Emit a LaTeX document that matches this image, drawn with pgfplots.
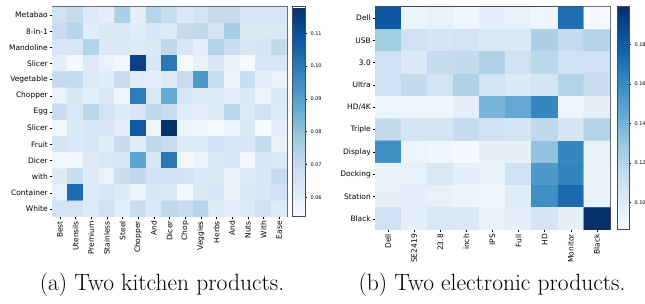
\documentclass[border=0pt]{standalone}
\usepackage{pgfplots}
\pgfplotsset{compat=1.18}
\usepackage{fontspec}
\newfontfamily\dejavu{DejaVu Sans}
\pgfplotsset{
  colormap={blues}{rgb255=(247,251,255) rgb255=(222,235,247) rgb255=(198,219,239) rgb255=(158,202,225) rgb255=(107,174,214) rgb255=(66,146,198) rgb255=(33,113,181) rgb255=(8,81,156) rgb255=(8,48,107)},
  heat/.style={
    scale only axis, anchor=south west, enlargelimits=false,
    y dir=reverse, colormap name=blues, colorbar,
    axis line style={black!70, line width=1pt},
    tick pos=left, tick align=outside, major tick length=2.5pt,
    tick style={black, line width=0.5pt},
    xtick=data, ytick=data,
    tick label style={font=\dejavu\fontsize{7.5}{8}\selectfont},
    xticklabel style={rotate=90, anchor=east, inner sep=1.5pt},
    yticklabel style={inner sep=1.5pt},
    colorbar shift/.style={xshift=5pt},
    colorbar style={
      at={(parent axis.north east)}, anchor=north west,
      scale only axis, width=13pt,
      axis line style={black!70, line width=1pt},
      ytick pos=right, tick align=outside, major tick length=2pt,
      yticklabel style={font=\dejavu\fontsize{5}{6}\selectfont, /pgf/number format/.cd, fixed, precision=2, fixed zerofill, assume math mode=true},
    },
  },
}
\begin{document}
\begin{tikzpicture}
\useasboundingbox (0,0) rectangle (645pt,304pt);
\begin{axis}[heat, at={(52pt,87pt)}, width=235pt, height=210pt,
  xmin=-0.5, xmax=14.5, ymin=-0.5, ymax=12.5,
  xtick={0,...,14}, ytick={0,...,12},
  xticklabels={Best,Utensils,Premium,Stainless,Steel,Chopper,And,Dicer,Chop,Veggies,Herbs,And,Nuts,With,Ease},
  yticklabels={Metabao,8-in-1,Mandoline,Slicer,Vegetable,Chopper,Egg,Slicer,Fruit,Dicer,with,Container,White},
  point meta min=0.054, point meta max=0.118,
  colorbar style={height=210pt, ytick={0.06,0.07,...,0.111}},
]
\addplot[matrix plot*, mesh/cols=15, point meta=explicit] coordinates {
(0,0)[0.067] (1,0)[0.070] (2,0)[0.062] (3,0)[0.060] (4,0)[0.075] (5,0)[0.060] (6,0)[0.073] (7,0)[0.069] (8,0)[0.063] (9,0)[0.066] (10,0)[0.070] (11,0)[0.070] (12,0)[0.064] (13,0)[0.064] (14,0)[0.064]
(0,1)[0.069] (1,1)[0.073] (2,1)[0.061] (3,1)[0.063] (4,1)[0.063] (5,1)[0.061] (6,1)[0.064] (7,1)[0.062] (8,1)[0.070] (9,1)[0.071] (10,1)[0.066] (11,1)[0.076] (12,1)[0.063] (13,1)[0.063] (14,1)[0.063]
(0,2)[0.064] (1,2)[0.064] (2,2)[0.074] (3,2)[0.063] (4,2)[0.063] (5,2)[0.062] (6,2)[0.063] (7,2)[0.071] (8,2)[0.064] (9,2)[0.060] (10,2)[0.074] (11,2)[0.069] (12,2)[0.064] (13,2)[0.065] (14,2)[0.071]
(0,3)[0.060] (1,3)[0.055] (2,3)[0.062] (3,3)[0.058] (4,3)[0.056] (5,3)[0.114] (6,3)[0.064] (7,3)[0.100] (8,3)[0.055] (9,3)[0.059] (10,3)[0.064] (11,3)[0.059] (12,3)[0.055] (13,3)[0.064] (14,3)[0.064]
(0,4)[0.070] (1,4)[0.070] (2,4)[0.062] (3,4)[0.061] (4,4)[0.069] (5,4)[0.061] (6,4)[0.060] (7,4)[0.062] (8,4)[0.069] (9,4)[0.092] (10,4)[0.069] (11,4)[0.058] (12,4)[0.069] (13,4)[0.060] (14,4)[0.058]
(0,5)[0.058] (1,5)[0.064] (2,5)[0.060] (3,5)[0.063] (4,5)[0.057] (5,5)[0.099] (6,5)[0.063] (7,5)[0.087] (8,5)[0.064] (9,5)[0.062] (10,5)[0.062] (11,5)[0.060] (12,5)[0.063] (13,5)[0.058] (14,5)[0.063]
(0,6)[0.069] (1,6)[0.063] (2,6)[0.072] (3,6)[0.066] (4,6)[0.062] (5,6)[0.064] (6,6)[0.071] (7,6)[0.069] (8,6)[0.061] (9,6)[0.060] (10,6)[0.062] (11,6)[0.072] (12,6)[0.062] (13,6)[0.067] (14,6)[0.062]
(0,7)[0.056] (1,7)[0.063] (2,7)[0.064] (3,7)[0.064] (4,7)[0.060] (5,7)[0.108] (6,7)[0.057] (7,7)[0.118] (8,7)[0.057] (9,7)[0.057] (10,7)[0.055] (11,7)[0.058] (12,7)[0.063] (13,7)[0.054] (14,7)[0.060]
(0,8)[0.065] (1,8)[0.063] (2,8)[0.064] (3,8)[0.061] (4,8)[0.070] (5,8)[0.061] (6,8)[0.071] (7,8)[0.069] (8,8)[0.062] (9,8)[0.062] (10,8)[0.067] (11,8)[0.064] (12,8)[0.064] (13,8)[0.070] (14,8)[0.059]
(0,9)[0.056] (1,9)[0.056] (2,9)[0.062] (3,9)[0.063] (4,9)[0.064] (5,9)[0.089] (6,9)[0.064] (7,9)[0.100] (8,9)[0.056] (9,9)[0.058] (10,9)[0.063] (11,9)[0.064] (12,9)[0.056] (13,9)[0.064] (14,9)[0.063]
(0,10)[0.062] (1,10)[0.069] (2,10)[0.062] (3,10)[0.058] (4,10)[0.068] (5,10)[0.071] (6,10)[0.067] (7,10)[0.067] (8,10)[0.066] (9,10)[0.063] (10,10)[0.063] (11,10)[0.059] (12,10)[0.062] (13,10)[0.064] (14,10)[0.070]
(0,11)[0.059] (1,11)[0.103] (2,11)[0.062] (3,11)[0.064] (4,11)[0.062] (5,11)[0.058] (6,11)[0.064] (7,11)[0.063] (8,11)[0.056] (9,11)[0.063] (10,11)[0.064] (11,11)[0.059] (12,11)[0.063] (13,11)[0.064] (14,11)[0.067]
(0,12)[0.066] (1,12)[0.066] (2,12)[0.062] (3,12)[0.067] (4,12)[0.060] (5,12)[0.069] (6,12)[0.063] (7,12)[0.071] (8,12)[0.069] (9,12)[0.073] (10,12)[0.062] (11,12)[0.060] (12,12)[0.062] (13,12)[0.067] (14,12)[0.062]
};
\end{axis}
\begin{axis}[heat, at={(375pt,74pt)}, width=235pt, height=223pt,
  xmin=-0.5, xmax=8.5, ymin=-0.5, ymax=9.5,
  xtick={0,...,8}, ytick={0,...,9},
  xticklabels={Dell,SE2419,23.8,inch,IPS,Full,HD,Monitor,Black},
  yticklabels={Dell,USB,3.0,Ultra,HD/4K,Triple,Display,Docking,Station,Black},
  point meta min=0.086, point meta max=0.199,
  colorbar shift/.style={xshift=7pt},
  colorbar style={height=223pt, width=12pt, ytick={0.10,0.12,...,0.181}},
]
\addplot[matrix plot*, mesh/cols=9, point meta=explicit] coordinates {
(0,0)[0.182] (1,0)[0.093] (2,0)[0.095] (3,0)[0.091] (4,0)[0.097] (5,0)[0.095] (6,0)[0.091] (7,0)[0.172] (8,0)[0.088]
(0,1)[0.127] (1,1)[0.109] (2,1)[0.105] (3,1)[0.107] (4,1)[0.103] (5,1)[0.102] (6,1)[0.123] (7,1)[0.114] (8,1)[0.120]
(0,2)[0.109] (1,2)[0.102] (2,2)[0.114] (3,2)[0.115] (4,2)[0.122] (5,2)[0.109] (6,2)[0.118] (7,2)[0.109] (8,2)[0.109]
(0,3)[0.109] (1,3)[0.115] (2,3)[0.107] (3,3)[0.122] (4,3)[0.107] (5,3)[0.101] (6,3)[0.105] (7,3)[0.121] (8,3)[0.112]
(0,4)[0.092] (1,4)[0.091] (2,4)[0.091] (3,4)[0.097] (4,4)[0.139] (5,4)[0.145] (6,4)[0.162] (7,4)[0.090] (8,4)[0.096]
(0,5)[0.115] (1,5)[0.105] (2,5)[0.105] (3,5)[0.114] (4,5)[0.109] (5,5)[0.105] (6,5)[0.116] (7,5)[0.105] (8,5)[0.121]
(0,6)[0.158] (1,6)[0.092] (2,6)[0.090] (3,6)[0.088] (4,6)[0.096] (5,6)[0.096] (6,6)[0.132] (7,6)[0.162] (8,6)[0.095]
(0,7)[0.094] (1,7)[0.095] (2,7)[0.103] (3,7)[0.097] (4,7)[0.095] (5,7)[0.109] (6,7)[0.153] (7,7)[0.163] (8,7)[0.094]
(0,8)[0.096] (1,8)[0.097] (2,8)[0.095] (3,8)[0.093] (4,8)[0.091] (5,8)[0.099] (6,8)[0.158] (7,8)[0.174] (8,8)[0.094]
(0,9)[0.109] (1,9)[0.097] (2,9)[0.103] (3,9)[0.102] (4,9)[0.095] (5,9)[0.097] (6,9)[0.105] (7,9)[0.096] (8,9)[0.199]
};
\end{axis}
\node[font=\fontsize{23.5}{26}\selectfont] at (162pt,19pt) {(a) Two kitchen products.};
\node[font=\fontsize{23.5}{26}\selectfont] at (492pt,19pt) {(b) Two electronic products.};
\end{tikzpicture}
\end{document}
